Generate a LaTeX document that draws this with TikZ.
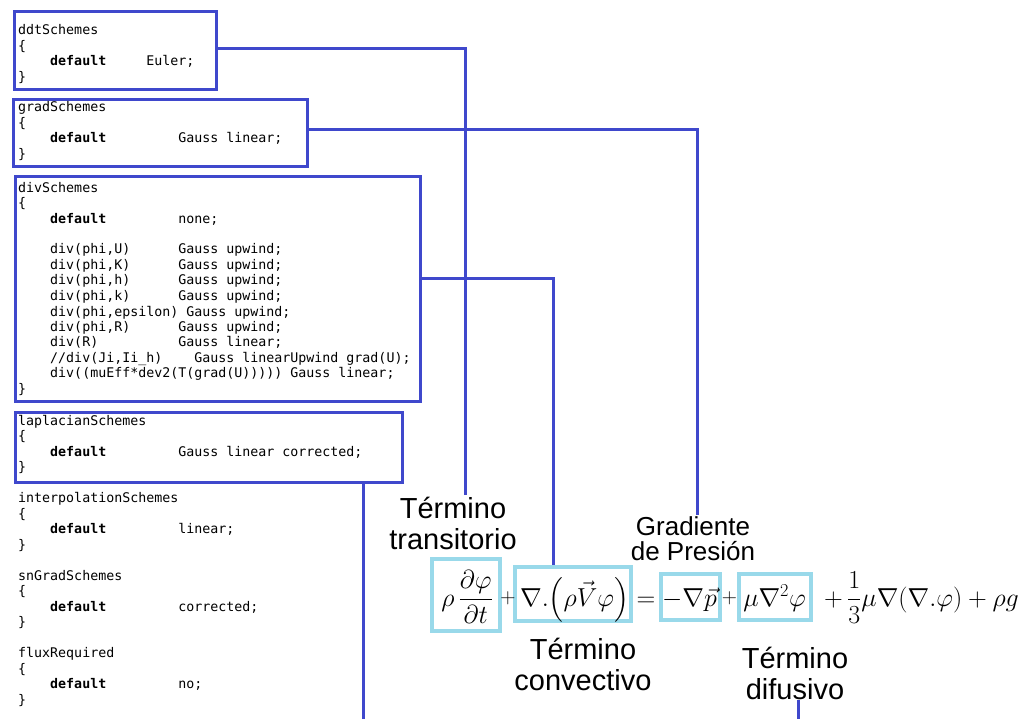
\documentclass[tikz,border=0pt]{standalone}
\usepackage{fix-cm}
\usepackage{amsmath}
\usepackage{fontspec}
\newfontfamily\codefont{DejaVu Sans Mono}
\newfontfamily\lblfont{Liberation Sans}
\definecolor{schemeblue}{HTML}{3F48CC}
\definecolor{termcyan}{HTML}{99D9EA}
\newlength\cw
\setlength\cw{8.007pt}
\newcommand\sk[1]{\hspace*{#1\cw}}
\newcommand\kw[1]{\textbf{#1}}

\tikzset{
  schemebox/.style={draw=schemeblue, line width=3pt, inner sep=0pt, anchor=north west},
  termbox/.style={draw=termcyan, line width=4.5pt, inner sep=0pt},
  % multi-line nodes: the base anchor sits on the last line
  code/.style={font=\codefont\fontsize{13.3}{15.5}\selectfont, align=left, inner sep=0pt, anchor=base west},
  lbl/.style={font=\lblfont\fontsize{29}{31}\selectfont, align=center, inner sep=1pt, anchor=base},
  lblsmall/.style={font=\lblfont\fontsize{26}{25}\selectfont, align=center, inner sep=1pt, anchor=base},
  eq/.style={font=\fontsize{26}{32}\selectfont, inner sep=0pt, anchor=base},
  eqop/.style={font=\fontsize{21}{26}\selectfont, inner sep=0pt, anchor=base},
  link/.style={draw=schemeblue, line width=3pt},
}

\begin{document}
\begin{tikzpicture}[x=1pt, y=-1pt]
\useasboundingbox (0,0) rectangle (1021,719);
\fill[white] (0,0) rectangle (1021,719);

% --- dictionary boxes ---
\node[schemebox, minimum width=202pt, minimum height=78pt] (ddt) at (13,10) {};
\node[schemebox, minimum width=294pt, minimum height=67pt] (grad) at (11.5,98.5) {};
\node[schemebox, minimum width=405pt, minimum height=225pt] (div) at (13.5,175.5) {};
\node[schemebox, minimum width=387pt, minimum height=69pt] (lap) at (13.5,411.5) {};

% --- fvSchemes listing ---
\node[code] (ddtcode) at (18,81.5) {ddtSchemes\\ \{\\ \sk{4}\kw{default}\sk{5}Euler;\\ \}};
\node[code] (gradcode) at (18,158.5) {gradSchemes\\ \{\\ \sk{4}\kw{default}\sk{9}Gauss linear;\\ \}};
\node[code] (divcode) at (18,393.5) {divSchemes\\ \{\\
  \sk{4}\kw{default}\sk{9}none;\\ \mbox{}\\
  \sk{4}div(phi,U)\sk{6}Gauss upwind;\\
  \sk{4}div(phi,K)\sk{6}Gauss upwind;\\
  \sk{4}div(phi,h)\sk{6}Gauss upwind;\\
  \sk{4}div(phi,k)\sk{6}Gauss upwind;\\
  \sk{4}div(phi,epsilon)\sk{1}Gauss upwind;\\
  \sk{4}div(phi,R)\sk{6}Gauss upwind;\\
  \sk{4}div(R)\sk{10}Gauss linear;\\
  \sk{4}//div(Ji,Ii\_h)\sk{4}Gauss linearUpwind grad(U);\\
  \sk{4}div((muEff*dev2(T(grad(U)))))\sk{1}Gauss linear;\\
  \}};
\node[code] (lapcode) at (18,471.5) {laplacianSchemes\\ \{\\ \sk{4}\kw{default}\sk{9}Gauss linear corrected;\\ \}};
\node[code] (restcode) at (18,704) {interpolationSchemes\\ \{\\ \sk{4}\kw{default}\sk{9}linear;\\ \}\\ \mbox{}\\
  snGradSchemes\\ \{\\ \sk{4}\kw{default}\sk{9}corrected;\\ \}\\ \mbox{}\\
  fluxRequired\\ \{\\ \sk{4}\kw{default}\sk{9}no;\\ \}};

% --- highlighted terms of the momentum equation ---
\node[termbox, minimum width=68pt, minimum height=72pt] (b1) at (466,595) {};
\node[termbox, minimum width=116pt, minimum height=54pt] (b2) at (573,594) {};
\node[termbox, minimum width=59pt, minimum height=46pt] (b3) at (690.5,597) {};
\node[termbox, minimum width=72pt, minimum height=46pt] (b4) at (775,597) {};

\node[eq] (t1) at (467,606) {$\rho\,\dfrac{\partial\varphi}{\partial t}$};
\node[eqop] (op1) at (508,603) {$+$};
\node[eq] (t2) at (574.5,606) {$\nabla.\Bigl(\rho\vec{V}\varphi\Bigr)$};
\node[eq] (op2) at (646,606) {$=$};
\node[eq] (t3) at (689.5,606) {$-\nabla\vec{p}$};
\node[eqop] (op3) at (729.5,603) {$+$};
\node[eq] (t4) at (774.5,606) {$\mu\nabla^2\varphi$};
\node[eq, anchor=base east] (rest) at (1019,606) {$+\,\dfrac{1}{3}\mu\nabla(\nabla.\varphi)+\rho g$};

% --- term labels ---
\node[lbl] (ttrans) at (453,549) {Término\\transitorio};
\node[lblsmall] (tgrad) at (693,560) {Gradiente\\de Presión};
\node[lbl] (tconv) at (583,690) {Término\\convectivo};
\node[lbl] (tdif) at (795,699) {Término\\difusivo};

% --- connectors ---
\coordinate (lapend) at (363,719);
\coordinate (difend) at (798,719);
\draw[link] ([yshift=2.3pt]ddt.east) -| ([xshift=12pt]ttrans.north);
\draw[link] ([yshift=4pt]grad.east) -| ([xshift=4pt]tgrad.north);
\draw[link] ([yshift=11pt]div.east) -| ([xshift=-20pt]b2.north);
\draw[link] (lap.south -| lapend) -- (lapend);
\draw[link] (tdif.south -| difend) -- (difend);
\end{tikzpicture}
\end{document}
